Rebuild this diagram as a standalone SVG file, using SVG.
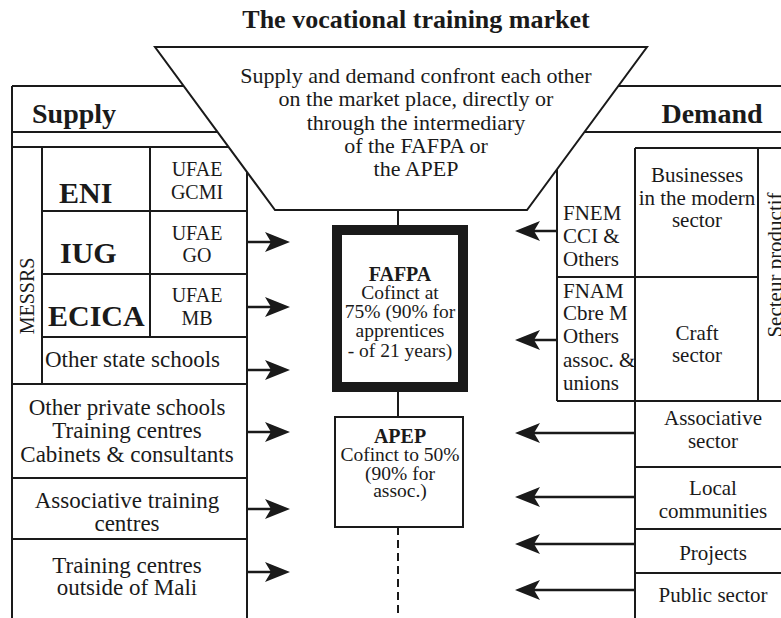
<svg xmlns="http://www.w3.org/2000/svg" width="781" height="618" viewBox="0 0 781 618">
<style>
text{font-family:"Liberation Serif","Times New Roman",serif;fill:#1a1a1a}
.b{font-weight:bold}
.t21{font-size:21px}
.t22{font-size:22px}
.t23{font-size:23px}
.t19{font-size:19.5px}
.t20{font-size:20px}
.big{font-size:30px;font-weight:bold}
.hd{font-size:28px;font-weight:bold}
.m{text-anchor:middle}
.ln{stroke:#1a1a1a;stroke-width:2;fill:none}
.ar{stroke:#1a1a1a;stroke-width:2.5;fill:none;marker-end:url(#ah)}
</style>
<defs>
<marker id="ah" markerUnits="userSpaceOnUse" markerWidth="30" markerHeight="24" viewBox="-2 -12 30 24" refX="6" refY="0" orient="auto">
<path d="M25,0 L0,-10 L6,0 L0,10 Z" fill="#1a1a1a"/>
</marker>
</defs>
<rect width="781" height="618" fill="#fff"/>
<text class="b m" x="416" y="28" style="font-size:26px">The vocational training market</text>
<g id="frame">
<path class="ln" d="M12,86 V618 M12,86 H200 M12,132 H240 M12,147 H240 M42,147 V384 M150,147 V337 M247,160 V618 M42,211 H247 M42,274 H247 M42,337 H247 M12,384 H247 M12,478 H247 M12,539 H247"/>
<path class="ln" d="M600,86 H781 M570,132 H781 M557,160 V401 M635,148 V618 M758,148 V401 M635,148 H781 M557,277 H758 M557,401 H781 M635,467 H781 M635,529 H781 M635,573 H781"/>
</g>
<g id="market">
<polygon points="155,47 647,47 527,210 275,210" fill="#fff" stroke="#1a1a1a" stroke-width="2"/>
<text class="t22 m" x="416" y="83">Supply and demand confront each other</text>
<text class="t22 m" x="416" y="106">on the market place, directly or</text>
<text class="t22 m" x="416" y="130">through the intermediary</text>
<text class="t22 m" x="416" y="153">of the FAFPA or</text>
<text class="t22 m" x="416" y="176">the APEP</text>
</g>
<g id="supply-labels">
<text class="hd" x="32" y="123">Supply</text>
<text class="t20 m" transform="translate(34,296) rotate(-90)">MESSRS</text>
</g>
<g id="eni"><text class="big" x="59" y="203">ENI</text><text class="t20 m" x="197" y="176">UFAE</text><text class="t20 m" x="197" y="199">GCMI</text></g>
<g id="iug"><text class="big" x="60" y="263">IUG</text><text class="t20 m" x="197" y="240">UFAE</text><text class="t20 m" x="197" y="262">GO</text></g>
<g id="ecica"><text class="big" x="48" y="326">ECICA</text><text class="t20 m" x="197" y="302">UFAE</text><text class="t20 m" x="197" y="325">MB</text></g>
<g id="state"><text class="t23" x="45" y="367">Other state schools</text></g>
<g id="private"><text class="t23 m" x="127" y="415">Other private schools</text><text class="t23 m" x="127" y="438">Training centres</text><text class="t23 m" x="127" y="462">Cabinets &amp; consultants</text></g>
<g id="assoc-centres"><text class="t23 m" x="127" y="508">Associative training</text><text class="t23 m" x="127" y="531">centres</text></g>
<g id="outside"><text class="t23 m" x="127" y="573">Training centres</text><text class="t23 m" x="127" y="595">outside of Mali</text></g>
<g id="demand-labels">
<text class="hd m" x="712" y="123">Demand</text>
<text class="t21 m" transform="translate(782,265) rotate(-90)">Secteur productif</text>
</g>
<g id="fnem"><text class="t21" x="563" y="220">FNEM</text><text class="t21" x="563" y="243">CCI &amp;</text><text class="t21" x="563" y="266">Others</text></g>
<g id="fnam"><text class="t21" x="563" y="298">FNAM</text><text class="t21" x="563" y="320">Cbre M</text><text class="t21" x="563" y="343">Others</text><text class="t21" x="563" y="367">assoc. &amp;</text><text class="t21" x="563" y="390">unions</text></g>
<g id="business"><text class="t21 m" x="697" y="182">Businesses</text><text class="t21 m" x="697" y="205">in the modern</text><text class="t21 m" x="697" y="227">sector</text></g>
<g id="craft"><text class="t21 m" x="697" y="340">Craft</text><text class="t21 m" x="697" y="362">sector</text></g>
<g id="assoc-sector"><text class="t21 m" x="713" y="425">Associative</text><text class="t21 m" x="713" y="448">sector</text></g>
<g id="local"><text class="t21 m" x="713" y="495">Local</text><text class="t21 m" x="713" y="518">communities</text></g>
<g id="projects"><text class="t21 m" x="713" y="560">Projects</text></g>
<g id="public"><text class="t21 m" x="713" y="602">Public sector</text></g>
<g id="fafpa">
<rect x="337" y="230" width="126" height="157" fill="#fff" stroke="#1a1a1a" stroke-width="10"/>
<text class="b m" x="400" y="281" style="font-size:20px">FAFPA</text>
<text class="t19 m" x="400" y="299">Cofinct at</text>
<text class="t19 m" x="400" y="318">75% (90% for</text>
<text class="t19 m" x="400" y="337">apprentices</text>
<text class="t19 m" x="400" y="357">- of 21 years)</text>
</g>
<g id="apep">
<rect x="335" y="417" width="128" height="110" fill="#fff" stroke="#1a1a1a" stroke-width="2"/>
<text class="b m" x="400" y="443" style="font-size:20px">APEP</text>
<text class="t19 m" x="400" y="461">Cofinct to 50%</text>
<text class="t19 m" x="400" y="480">(90% for</text>
<text class="t19 m" x="400" y="497">assoc.)</text>
</g>
<g id="connectors">
<path class="ln" d="M398,210 V225 M398,392 V417"/>
<path class="ln" d="M398,527 V618" stroke-dasharray="8 5"/>
<path class="ar" d="M247,242 H271"/>
<path class="ar" d="M247,307 H271"/>
<path class="ar" d="M247,370 H271"/>
<path class="ar" d="M247,432 H271"/>
<path class="ar" d="M247,509 H271"/>
<path class="ar" d="M247,572 H271"/>
<path class="ar" d="M557,231 H534"/>
<path class="ar" d="M557,340 H534"/>
<path class="ar" d="M635,433 H534"/>
<path class="ar" d="M635,497 H534"/>
<path class="ar" d="M635,544 H534"/>
<path class="ar" d="M635,590 H534"/>
</g>
</svg>
